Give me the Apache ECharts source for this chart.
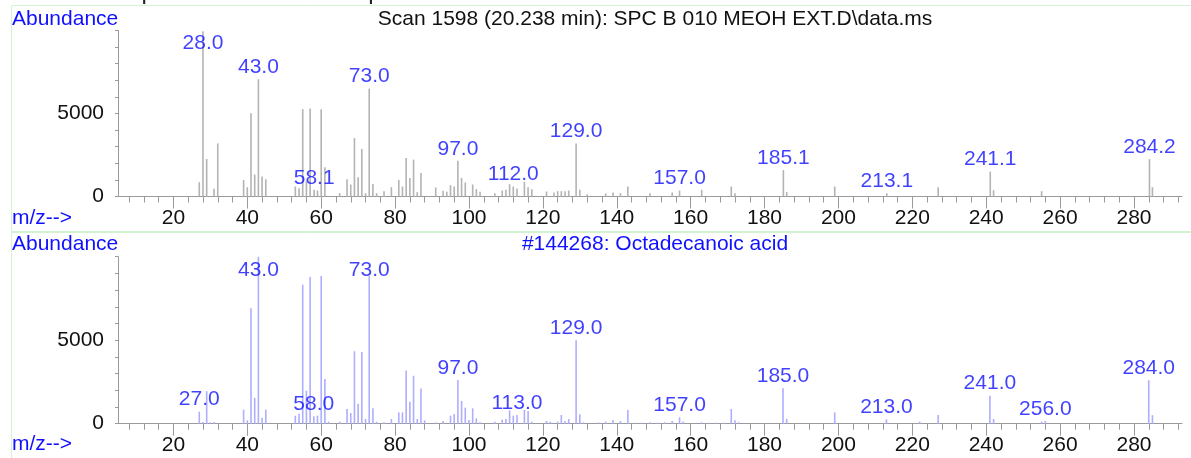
<!DOCTYPE html>
<html><head><meta charset="utf-8">
<script src="https://cdn.jsdelivr.net/npm/echarts@6/dist/echarts.min.js"></script>
<style>html,body{margin:0;padding:0;background:#fff}#c{width:1191px;height:458px}</style>
</head><body><div id="c"></div>
<script>
// ---- Data ----
const scanTitle = 'Scan 1598 (20.238 min): SPC B 010 MEOH EXT.D\\data.ms';
const libTitle = '#144268: Octadecanoic acid';
const headerCut = 'Unknown: Spect Fam based on Tpeak';

const scanMz = [27, 28, 29, 31, 32, 39, 40, 41, 42, 43, 44, 45, 53, 54, 55, 56, 57, 58.1, 59, 60, 61, 65, 67, 68, 69, 70, 71, 72, 73, 74, 75, 77, 79, 81, 82, 83, 84, 85, 86, 87, 91, 93, 94, 95, 96, 97, 98, 99, 101, 102, 103, 107, 109, 110, 111, 112, 113, 115, 116, 117, 121, 123, 124, 125, 126, 127, 129, 130, 132, 137, 139, 141, 143, 149, 155, 157, 163, 171, 172, 185.1, 186, 199, 213.1, 227, 241.1, 242, 255, 284.2, 285];
const scanAbund = [860, 9950, 2260, 460, 3200, 1000, 560, 5020, 1320, 7060, 1200, 1040, 600, 500, 5260, 900, 5300, 400, 360, 5260, 1760, 200, 1040, 720, 3520, 1160, 2860, 200, 6500, 760, 200, 320, 560, 1000, 600, 2320, 1120, 2220, 260, 1420, 540, 340, 280, 680, 600, 2150, 1120, 840, 720, 440, 280, 200, 360, 400, 740, 600, 480, 880, 560, 440, 300, 240, 320, 320, 320, 360, 3200, 400, 140, 180, 240, 200, 600, 200, 240, 360, 400, 600, 200, 1590, 280, 600, 200, 560, 1500, 380, 320, 2250, 560];
const scanLabelMz = [28, 43, 58.1, 73, 97, 112, 129, 157, 185.1, 213.1, 241.1, 284.2];
const scanLabelText = ['28.0', '43.0', '58.1', '73.0', '97.0', '112.0', '129.0', '157.0', '185.1', '213.1', '241.1', '284.2'];

const libMz = [27, 28, 29, 30, 31, 39, 40, 41, 42, 43, 44, 45, 53, 54, 55, 56, 57, 58, 59, 60, 61, 62, 65, 67, 68, 69, 70, 71, 72, 73, 74, 75, 77, 79, 81, 82, 83, 84, 85, 86, 87, 88, 91, 93, 95, 96, 97, 98, 99, 100, 101, 102, 103, 107, 109, 110, 111, 112, 113, 115, 116, 117, 121, 122, 124, 125, 126, 127, 129, 130, 131, 135, 137, 139, 141, 143, 145, 147, 149, 151, 153, 155, 157, 158, 163, 165, 167, 169, 171, 172, 173, 185, 186, 199, 213, 222, 227, 241, 242, 255, 256, 284, 285];
const libAbund = [720, 100, 1950, 80, 100, 840, 200, 6920, 1550, 9999, 360, 840, 480, 600, 8320, 1970, 8780, 440, 480, 8840, 2670, 120, 120, 880, 640, 4340, 1190, 4300, 280, 8840, 920, 120, 80, 280, 680, 680, 3180, 1310, 2870, 280, 2110, 200, 80, 160, 480, 580, 2610, 1360, 960, 220, 920, 320, 80, 120, 240, 280, 800, 480, 520, 820, 760, 120, 160, 120, 120, 520, 160, 280, 4990, 560, 80, 80, 120, 220, 160, 820, 60, 60, 80, 60, 80, 160, 380, 120, 80, 60, 60, 60, 880, 200, 80, 2120, 280, 680, 260, 120, 520, 1680, 280, 120, 160, 2600, 510];
const libLabelMz = [27, 43, 58, 73, 97, 113, 129, 157, 185, 213, 241, 256, 284];
const libLabelText = ['27.0', '43.0', '58.0', '73.0', '97.0', '113.0', '129.0', '157.0', '185.0', '213.0', '241.0', '256.0', '284.0'];

const xMajorTicks = [20, 40, 60, 80, 100, 120, 140, 160, 180, 200, 220, 240, 260, 280];
const xMinorTicks = [8, 12, 16, 24, 28, 32, 36, 44, 48, 52, 56, 64, 68, 72, 76, 84, 88, 92, 96, 104, 108, 112, 116, 124, 128, 132, 136, 144, 148, 152, 156, 164, 168, 172, 176, 184, 188, 192, 196, 204, 208, 212, 216, 224, 228, 232, 236, 244, 248, 252, 256, 264, 268, 272, 276, 284, 288, 292];
const yTickLabels = [0, 5000];
const xLabelTitle = 'm/z-->';
const yLabelTitle = 'Abundance';

// ---- Styles ----
const FONT = 'Arial, "Liberation Sans", sans-serif';
const FS = 21;
const BLUE = '#1010ff';
const AXIS = '#9a9a9a';
const X_MIN = 5, X_MAX = 293, Y_MAX = 10000, LABEL_CAP = 8500;

const grids = [
  { left: 118, width: 1064, top: 30.5, height: 166 },
  { left: 118, width: 1064, top: 256.7, height: 167 }
];

function xAxes(g) {
  return [
    { type: 'value', gridIndex: g, min: X_MIN, max: X_MAX, position: 'bottom',
      axisLine: { show: true, onZero: false, lineStyle: { color: AXIS, width: 1 } },
      axisTick: { show: true, customValues: xMinorTicks, length: 6, lineStyle: { color: AXIS } },
      axisLabel: { show: false }, splitLine: { show: false } },
    { type: 'value', gridIndex: g, min: X_MIN, max: X_MAX, position: 'bottom',
      axisLine: { show: false, onZero: false },
      axisTick: { show: true, customValues: xMajorTicks, length: 12, lineStyle: { color: AXIS } },
      axisLabel: { show: true, customValues: xMajorTicks, margin: 11, color: '#111', fontSize: FS, fontFamily: FONT },
      splitLine: { show: false } }
  ];
}
function yAxis(g) {
  return { type: 'value', gridIndex: g, min: 0, max: Y_MAX, interval: 1000,
    axisLine: { show: true, lineStyle: { color: AXIS } },
    axisTick: { show: true, length: 3, lineStyle: { color: AXIS } },
    axisLabel: { show: true, customValues: yTickLabels, margin: 14, color: '#111', fontSize: FS, fontFamily: FONT,
      formatter: v => String(v) },
    splitLine: { show: false } };
}
function pairs(mz, ab) { return mz.map((m, i) => [m, ab[i]]); }
function labelData(mz, ab, lmz, ltxt) {
  return lmz.map((m, i) => [m, Math.min(ab[mz.indexOf(m)], LABEL_CAP), ltxt[i]]);
}
function barSeries(xi, yi, mz, ab, color) {
  return { type: 'bar', xAxisIndex: xi, yAxisIndex: yi, data: pairs(mz, ab), barWidth: 1.6,
    itemStyle: { color: color }, silent: true, z: 2 };
}
function labelSeries(xi, yi, data) {
  return { type: 'scatter', xAxisIndex: xi, yAxisIndex: yi, data: data, symbolSize: 1,
    itemStyle: { color: 'rgba(0,0,0,0)' }, silent: true, z: 5,
    label: { show: true, position: 'top', distance: 1, formatter: p => p.value[2],
      color: BLUE, fontSize: FS, fontFamily: FONT } };
}
function txt(x, y, text, color, align, size) {
  return { type: 'text', x: x, y: y, z: 10, silent: true,
    style: { text: text, fill: color, font: (size || FS) + 'px ' + FONT, align: align || 'left', verticalAlign: 'middle' } };
}

const chart = echarts.init(document.getElementById('c'), null, { renderer: 'canvas' });
chart.setOption({
  animation: false,
  backgroundColor: '#ffffff',
  grid: grids,
  xAxis: [...xAxes(0), ...xAxes(1)],
  yAxis: [yAxis(0), yAxis(1)],
  series: [
    barSeries(0, 0, scanMz, scanAbund, '#b3b3b3'),
    labelSeries(0, 0, labelData(scanMz, scanAbund, scanLabelMz, scanLabelText)),
    barSeries(2, 1, libMz, libAbund, '#aeaeff'),
    labelSeries(2, 1, labelData(libMz, libAbund, libLabelMz, libLabelText))
  ],
  graphic: [
    { type: 'rect', shape: { x: 11.5, y: 5.5, width: 1200, height: 226 }, style: { fill: 'none', stroke: '#d2f2d2', lineWidth: 1 }, silent: true, z: 0 },
    { type: 'rect', shape: { x: 11.5, y: 232.5, width: 1200, height: 240 }, style: { fill: 'none', stroke: '#d2f2d2', lineWidth: 1 }, silent: true, z: 0 },
    txt(12, -8, headerCut, '#222', 'left', 24),
    txt(12, 19, yLabelTitle, BLUE),
    txt(655, 19, scanTitle, '#111', 'center'),
    txt(12, 218, xLabelTitle, BLUE),
    txt(12, 244, yLabelTitle, BLUE),
    txt(655, 244, libTitle, BLUE, 'center'),
    txt(12, 444, xLabelTitle, BLUE)
  ]
});
</script>
</body></html>
